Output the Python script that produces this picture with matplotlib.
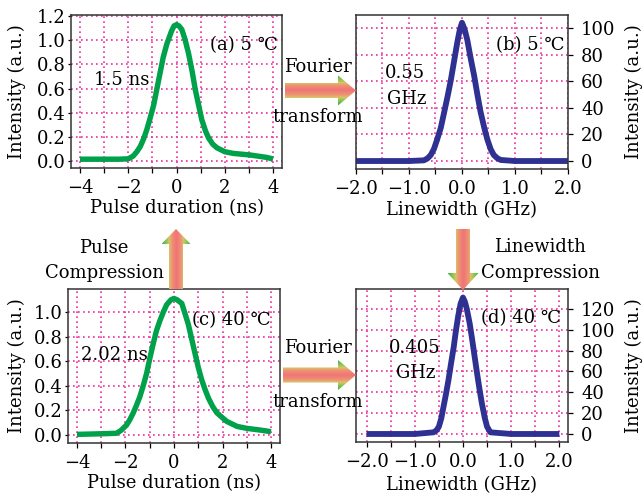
import numpy as np
import matplotlib
matplotlib.use("Agg")
import matplotlib.pyplot as plt
from matplotlib.patches import Polygon
from matplotlib.colors import LinearSegmentedColormap
from matplotlib.ticker import FuncFormatter

plt.rcParams['font.family'] = ['DejaVu Serif', 'DejaVu Sans']
plt.rcParams['font.size'] = 13

# ---- data ----
# (a) pulse at 5 C
t_a = [-4.0, -3.0, -2.4, -2.0, -1.8, -1.65, -1.5, -1.35, -1.23, -1.1, -0.95, -0.82, -0.68, -0.55,
       -0.4, -0.2, -0.1, 0.0, 0.1, 0.22, 0.35, 0.5, 0.65, 0.78, 0.92, 1.05, 1.2, 1.33, 1.5,
       1.67, 2.0, 2.35, 3.04, 3.73, 4.0]
i_a = [0.015, 0.015, 0.015, 0.018, 0.04, 0.075, 0.12, 0.19, 0.26, 0.35, 0.46, 0.59, 0.73, 0.86,
       0.97, 1.08, 1.12, 1.13, 1.12, 1.09, 1.01, 0.89, 0.74, 0.59, 0.46, 0.34, 0.25, 0.19, 0.14,
       0.11, 0.077, 0.063, 0.05, 0.03, 0.017]

# (b) spectrum at 5 C
f_b = [-2.0, -1.0, -0.72, -0.65, -0.59, -0.53, -0.47, -0.4, -0.34, -0.27, -0.21, -0.15, -0.09, -0.04, 0.0,
       0.05, 0.1, 0.16, 0.23, 0.29, 0.35, 0.42, 0.48, 0.54, 0.6, 0.67, 0.73, 1.0, 2.0]
s_b = [0, 0, 0.5, 2, 4.5, 9, 16, 25, 36, 49, 61, 75, 89, 99, 104,
       99, 91, 78, 64, 50, 37, 25, 16, 9, 4.5, 2, 0.8, 0, 0]

# (c) pulse at 40 C
t_c = [-4.0, -3.0, -2.37, -2.2, -1.96, -1.82, -1.68, -1.55, -1.41, -1.27, -1.13, -1.0, -0.86, -0.72,
       -0.58, -0.44, -0.3, -0.12, 0.0, 0.12, 0.32, 0.45, 0.59, 0.73, 0.87, 1.0, 1.14, 1.28, 1.42,
       1.6, 1.77, 2.0, 2.18, 2.6, 3.0, 3.56, 4.0]
i_c = [0.005, 0.01, 0.014, 0.035, 0.08, 0.125, 0.18, 0.24, 0.31, 0.4, 0.5, 0.62, 0.74, 0.85,
       0.93, 1.0, 1.06, 1.1, 1.11, 1.1, 1.07, 0.99, 0.9, 0.78, 0.66, 0.55, 0.45, 0.37, 0.3,
       0.23, 0.18, 0.14, 0.11, 0.07, 0.054, 0.04, 0.027]

# (d) spectrum at 40 C
f_d = [-2.0, -1.0, -0.61, -0.55, -0.5, -0.45, -0.4, -0.35, -0.3, -0.25, -0.19, -0.15, -0.1, -0.05, 0.0,
       0.04, 0.08, 0.14, 0.19, 0.24, 0.29, 0.34, 0.39, 0.45, 0.5, 0.57, 1.0, 2.0]
s_d = [0, 0, 1.6, 3.5, 7, 15, 27, 39, 52, 67, 84, 98, 113, 125, 131,
       127, 120, 106, 91, 75, 59, 44, 30, 16, 7, 1.6, 0, 0]

green = '#00a14b'
navy = '#2e3192'
grid_col = '#ee2fa0'

W, H = 642, 497
fig = plt.figure(figsize=(W / 100, H / 100), dpi=100)

fmt1 = FuncFormatter(lambda v, p: f'{v:.1f}'.replace('-', '\u2212'))


def px_axes(left, top, right, bottom):
    return fig.add_axes([left / W, 1 - bottom / H, (right - left) / W, (bottom - top) / H])


def style(ax, right=False):
    ax.grid(True, which='both', color=grid_col, linestyle=(0, (1, 2)), linewidth=1.2)
    ax.set_axisbelow(True)
    for s in ax.spines.values():
        s.set_color('#333333')
        s.set_linewidth(1.1)
    ax.tick_params(axis='x', which='both', direction='out', length=3.5, width=0.9, pad=4.5)
    if right:
        ax.yaxis.tick_right()
        ax.yaxis.set_label_position('right')
        ax.tick_params(axis='y', which='both', direction='out', length=3.5, width=0.9, pad=6)
    else:
        ax.tick_params(axis='y', which='both', direction='out', length=2, width=0.9, pad=2)


# (a)
ax_a = px_axes(71, 15, 282, 168)
ax_a.plot(t_a, i_a, color=green, lw=3.9, solid_capstyle='butt')
ax_a.set_xlim(-4.37, 4.37)
ax_a.set_ylim(-0.058, 1.21)
ax_a.set_xticks([-4, -2, 0, 2, 4])
ax_a.set_xticks([-3, -1, 1, 3], minor=True)
ax_a.set_yticks([0, 0.2, 0.4, 0.6, 0.8, 1.0, 1.2])
ax_a.yaxis.set_major_formatter(fmt1)
style(ax_a)
ax_a.set_xlabel('Pulse duration (ns)')
ax_a.set_ylabel('Intensity (a.u.)')
ax_a.xaxis.set_label_coords(0.5, -0.205)
ax_a.yaxis.set_label_coords(-0.213, 0.5)
ax_a.text(2.78, 0.96, '(a) 5 \u2103', ha='center', va='center')
ax_a.text(-2.26, 0.67, '1.5 ns', ha='center', va='center')

# (b)
ax_b = px_axes(356, 15, 568, 169)
ax_b.plot(f_b, s_b, color=navy, lw=4.2, solid_capstyle='butt')
ax_b.set_xlim(-2.0, 2.0)
ax_b.set_ylim(-6, 109.8)
ax_b.set_xticks([-2, -1, 0, 1, 2])
ax_b.set_xticks([-1.5, -0.5, 0.5, 1.5], minor=True)
ax_b.xaxis.set_major_formatter(fmt1)
ax_b.set_yticks([0, 20, 40, 60, 80, 100])
style(ax_b, right=True)
ax_b.set_xlabel('Linewidth (GHz)')
ax_b.set_ylabel('Intensity (a.u.)')
ax_b.xaxis.set_label_coords(0.5, -0.21)
ax_b.yaxis.set_label_coords(1.27, 0.5)
ax_b.text(1.29, 87, '(b) 5 \u2103', ha='center', va='center')
ax_b.text(-1.07, 66, '0.55', ha='center', va='center')
ax_b.text(-1.05, 47, 'GHz', ha='center', va='center')

# (c)
ax_c = px_axes(68, 289, 280, 443)
ax_c.plot(t_c, i_c, color=green, lw=3.9, solid_capstyle='butt')
ax_c.set_xlim(-4.37, 4.37)
ax_c.set_ylim(-0.065, 1.187)
ax_c.set_xticks([-4, -2, 0, 2, 4])
ax_c.set_xticks([-3, -1, 1, 3], minor=True)
ax_c.set_yticks([0, 0.2, 0.4, 0.6, 0.8, 1.0])
ax_c.yaxis.set_major_formatter(fmt1)
style(ax_c)
ax_c.set_xlabel('Pulse duration (ns)')
ax_c.set_ylabel('Intensity (a.u.)')
ax_c.xaxis.set_label_coords(0.5, -0.205)
ax_c.yaxis.set_label_coords(-0.198, 0.5)
ax_c.text(2.37, 0.935, '(c) 40 \u2103', ha='center', va='center')
ax_c.text(-2.47, 0.65, '2.02 ns', ha='center', va='center')

# (d)
ax_d = px_axes(356, 289, 568, 442)
ax_d.plot(f_d, s_d, color=navy, lw=4.2, solid_capstyle='butt')
ax_d.set_xlim(-2.22, 2.18)
ax_d.set_ylim(-7.7, 139.2)
ax_d.set_xticks([-2, -1, 0, 1, 2])
ax_d.set_xticks([-1.5, -0.5, 0.5, 1.5], minor=True)
ax_d.xaxis.set_major_formatter(fmt1)
ax_d.set_yticks([0, 20, 40, 60, 80, 100, 120])
style(ax_d, right=True)
ax_d.set_xlabel('Linewidth (GHz)')
ax_d.set_ylabel('Intensity (a.u.)')
ax_d.xaxis.set_label_coords(0.5, -0.225)
ax_d.yaxis.set_label_coords(1.27, 0.5)
ax_d.text(1.21, 111.5, '(d) 40 \u2103', ha='center', va='center')
ax_d.text(-1.0, 82.7, '0.405', ha='center', va='center')
ax_d.text(-0.98, 58.7, 'GHz', ha='center', va='center')

# overlay for the gradient arrows and the captions between panels
ov = fig.add_axes([0, 0, 1, 1], zorder=10)
ov.set_xlim(0, W)
ov.set_ylim(H, 0)
ov.axis('off')
ov.patch.set_alpha(0)

arrow_cmap = LinearSegmentedColormap.from_list(
    'arr', [(0.0, '#f07476'), (0.3, '#ee9272'), (0.5, '#dcc26a'), (0.68, '#8cc852'), (1.0, '#3cb043')])


def grad_arrow(tail, tip, body_w, head_w, head_len):
    tail = np.array(tail, float)
    tip = np.array(tip, float)
    d = tip - tail
    L = np.hypot(*d)
    u = d / L
    n = np.array([-u[1], u[0]])
    base = tail + u * (L - head_len)
    pts = [tail + n * body_w / 2, base + n * body_w / 2, base + n * head_w / 2, tip,
           base - n * head_w / 2, base - n * body_w / 2, tail - n * body_w / 2]
    poly = Polygon(pts, closed=True, facecolor='none', edgecolor='none')
    ov.add_patch(poly)
    pts = np.array(pts)
    x0, x1 = pts[:, 0].min(), pts[:, 0].max()
    y0, y1 = pts[:, 1].min(), pts[:, 1].max()
    xs = np.linspace(x0, x1, 120)
    ys = np.linspace(y0, y1, 120)
    X, Y = np.meshgrid(xs, ys)
    t = np.abs((X - tail[0]) * n[0] + (Y - tail[1]) * n[1]) / (head_w / 2)
    im = ov.imshow(t, extent=(x0, x1, y1, y0), origin='upper', cmap=arrow_cmap,
                   vmin=0, vmax=1, aspect='auto', interpolation='bilinear')
    im.set_clip_path(poly)


grad_arrow((285, 90.5), (356, 90.5), 15, 30, 18)
grad_arrow((283, 375), (356, 375), 15, 30, 18)
grad_arrow((176, 289), (176, 229), 14, 29, 15)
grad_arrow((463, 229), (463, 290), 14, 31, 17)
ov.set_xlim(0, W)
ov.set_ylim(H, 0)

ov.text(318, 67, 'Fourier', ha='center', va='center')
ov.text(318, 117, 'transform', ha='center', va='center')
ov.text(318, 348, 'Fourier', ha='center', va='center')
ov.text(318, 402, 'transform', ha='center', va='center')
ov.text(104, 248, 'Pulse', ha='center', va='center')
ov.text(104, 273, 'Compression', ha='center', va='center')
ov.text(540, 247, 'Linewidth', ha='center', va='center')
ov.text(540, 273, 'Compression', ha='center', va='center')

fig.savefig('out.png', dpi=100)
